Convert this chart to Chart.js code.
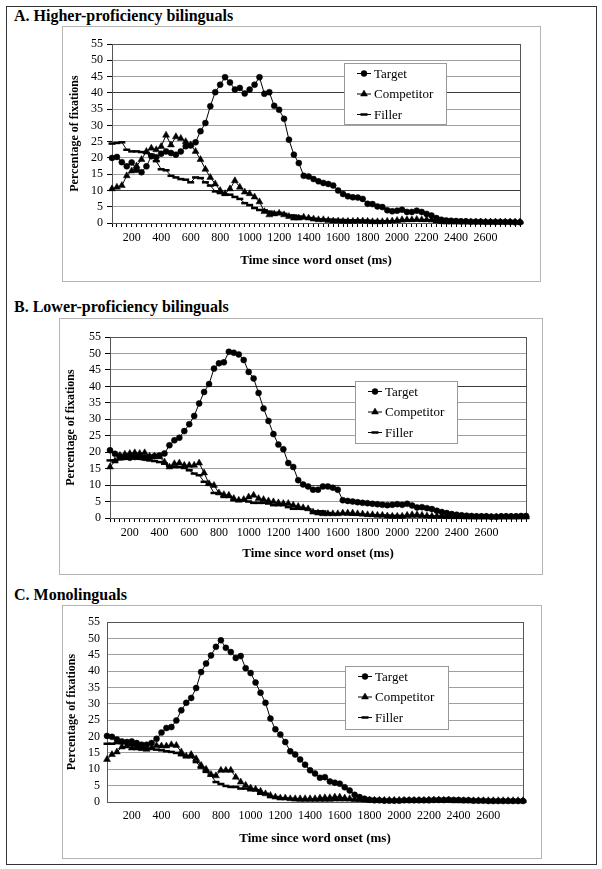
<!DOCTYPE html>
<html lang="en">
<head>
<meta charset="UTF-8">
<title>Percentage of fixations over time</title>
<script src="https://cdn.jsdelivr.net/npm/chart.js"></script>
<style>
  body { margin: 0; background: #fff; font-family: 'Liberation Serif', serif; }
  .frame { position: absolute; left: 6px; top: 6px; width: 589px; height: 857px; border: 1px solid #333; }
  .title { position: absolute; left: 14px; font-weight: bold; font-size: 16px; line-height: 16px; white-space: nowrap; }
  .box { position: absolute; border: 1px solid #b4b4b4; background: #fff; }
  .box canvas { display: block; }
</style>
</head>
<body>
<div class="frame"></div>

<div class="title" style="top:8px">A. Higher-proficiency bilinguals</div>
<div class="box" style="left:62px; top:26px; width:477px; height:254px">
  <canvas id="chartA" width="477" height="254"></canvas>
</div>

<div class="title" style="top:299px">B. Lower-proficiency bilinguals</div>
<div class="box" style="left:59px; top:318px; width:482px; height:255px">
  <canvas id="chartB" width="482" height="255"></canvas>
</div>

<div class="title" style="top:587px">C. Monolinguals</div>
<div class="box" style="left:62px; top:605px; width:478px; height:252px">
  <canvas id="chartC" width="478" height="252"></canvas>
</div>

<script>
// sample bins (ms since word onset)
const binTimes = [33, 67, 100, 133, 167, 200, 233, 267, 300, 333, 367, 400, 433, 467, 500, 533, 567, 600,
  633, 667, 700, 733, 767, 800, 833, 867, 900, 933, 967, 1000, 1033, 1067, 1100, 1133, 1167, 1200,
  1233, 1267, 1300, 1333, 1367, 1400, 1433, 1467, 1500, 1533, 1567, 1600, 1633, 1667, 1700, 1733,
  1767, 1800, 1833, 1867, 1900, 1933, 1967, 2000, 2033, 2067, 2100, 2133, 2167, 2200, 2233, 2267,
  2300, 2333, 2367, 2400, 2433, 2467, 2500, 2533, 2567, 2600, 2633, 2667, 2700, 2733, 2767, 2800,
  2833, 2867];
const timesA = binTimes.slice(1, 85);
const timesB = binTimes.slice(1, 86);
const timesC = binTimes.slice(0, 85);
const seriesNames = ['Target', 'Competitor', 'Filler'];

// A. Higher-proficiency bilinguals
const targetA = [20, 20.3, 18.7, 17.4, 18.6, 16.4, 15.6, 17.4, 20.5, 20.2,
  21.3, 22, 21.5, 21, 22, 23.6, 23.8, 24.8, 28.2, 30.7,
  35.9, 40.2, 42.5, 44.8, 43.2, 41, 41.5, 39.8, 41, 42.5,
  44.8, 39.7, 40.2, 36, 34.8, 32, 25.6, 21, 18.4, 14.5,
  14.3, 13.5, 12.8, 12.3, 12, 11.5, 10, 8.9, 8.2, 7.9,
  7.8, 7.4, 5.9, 5.8, 5.1, 4.9, 3.9, 3.6, 3.8, 4.1,
  3.4, 3.4, 3.8, 3.4, 2.8, 2.3, 1.5, 1.0, 0.8, 0.7,
  0.6, 0.5, 0.5, 0.4, 0.4, 0.4, 0.3, 0.3, 0.3, 0.3,
  0.3, 0.3, 0.2, 0.2];
const competitorA = [10.5, 11, 11.5, 14.5, 16, 17.5, 19.5, 22, 23, 22.5,
  23.5, 27, 24, 26.5, 26, 25, 24, 22, 19.5, 16.5,
  14, 12, 10, 9, 10.5, 13, 11, 9.5, 9, 8,
  6.5, 3.5, 2.5, 2.8, 3, 2.5, 2, 1.5, 1.5, 1.8,
  1.5, 1.2, 1, 1, 0.8, 0.6, 0.6, 0.5, 0.5, 0.5,
  0.6, 0.6, 0.5, 0.4, 0.4, 0.4, 0.5, 0.6, 0.8, 1,
  1, 1, 1.1, 1, 1, 0.9, 0.6, 0.4, 0.3, 0.3,
  0.3, 0.3, 0.3, 0.3, 0.3, 0.3, 0.3, 0.3, 0.3, 0.3,
  0.3, 0.3, 0.3, 0.3];
const fillerA = [24.4, 24.6, 24.8, 22.5, 22, 22, 21.8, 21.5, 21, 19,
  16.5, 16.2, 14.5, 14, 13.5, 13.3, 12.5, 14, 13.8, 12.5,
  11.5, 9.7, 9.2, 8.7, 8.7, 8, 7.4, 6.1, 5.5, 4.6,
  4, 3.9, 3.5, 3.1, 3.1, 2.8, 2.3, 2.3, 2, 1.5,
  1.5, 1.3, 1.1, 1, 1, 1, 0.9, 0.9, 0.8, 0.8,
  0.8, 0.7, 0.7, 0.6, 0.6, 0.5, 0.5, 0.5, 0.5, 0.6,
  0.7, 0.8, 0.8, 0.8, 0.8, 0.7, 0.6, 0.4, 0.3, 0.3,
  0.2, 0.2, 0.2, 0.2, 0.2, 0.2, 0.2, 0.2, 0.2, 0.2,
  0.2, 0.2, 0.2, 0.2];

// B. Lower-proficiency bilinguals
const targetB = [20.6, 19.5, 18.8, 18.5, 18.3, 18.5, 18.5, 18.3, 18.5, 18.8,
  19, 19.6, 22.1, 23.6, 24.4, 26.4, 28.5, 31, 34.8, 38.3,
  40.7, 45.4, 47, 47.3, 50.5, 50.2, 49.7, 48, 44.4, 42.4,
  38, 33.3, 29.5, 25.5, 22.3, 20.9, 16.7, 15.5, 11.5, 10.2,
  9.6, 8.6, 8.6, 9.6, 9.6, 9.2, 8.6, 5.4,
  5.2, 5, 4.8, 4.6, 4.5, 4.3, 4.2, 4, 3.9, 4,
  4.2, 4, 4.3, 3.8, 3.2, 3.3, 3, 2.7, 2.2, 1.8,
  1.5, 1.2, 1, 0.8, 0.7, 0.6, 0.5, 0.5, 0.5, 0.4,
  0.4, 0.5, 0.5, 0.5, 0.5, 0.6, 0.6];
const competitorB = [15.5, 17.3, 19, 19.4, 19.6, 19.8, 19.6, 19.8, 18.8, 18.8,
  18.6, 17, 15.5, 16.5, 16.7, 16, 16, 16, 16.7, 13.7,
  10.4, 9.9, 7.6, 7.1, 6.9, 5.9, 5.4, 5.6, 6.4, 6.9,
  5.9, 5.6, 5.2, 4.9, 4.6, 4.4, 4.4, 3.9, 3.5, 3.1,
  2.8, 1.8, 1.5, 1.3, 1.3, 1.3, 1.3, 1.5,
  1.5, 1.5, 1.3, 1.2, 1, 1, 0.8, 0.8, 0.6, 0.5,
  0.5, 0.5, 0.8, 1, 1, 0.8, 0.6, 0.5, 0.5, 0.5,
  0.4, 0.4, 0.4, 0.4, 0.3, 0.3, 0.3, 0.3, 0.3, 0.3,
  0.3, 0.3, 0.3, 0.3, 0.3, 0.3, 0.3];
const fillerB = [17.5, 17.5, 17.8, 18, 18.2, 18.2, 18, 17.8, 17.5, 17.3,
  17, 16.5, 15.8, 15.5, 15.5, 15.2, 14.5, 13.5, 13, 11,
  10.2, 7.6, 7.4, 6.4, 6.4, 5.4, 5.4, 5.4, 5, 4.6,
  4.6, 4.6, 4.4, 3.9, 3.9, 3.9, 3.3, 2.8, 2.8, 2.8,
  2.6, 2, 2, 2, 1.5, 1.2, 1.2, 1.2,
  1.1, 1, 1, 0.9, 0.9, 0.8, 0.8, 0.7, 0.7, 0.6,
  0.6, 0.6, 0.5, 0.5, 0.5, 0.5, 0.5, 0.4, 0.4, 0.4,
  0.4, 0.4, 0.3, 0.3, 0.3, 0.3, 0.3, 0.3, 0.3, 0.3,
  0.3, 0.3, 0.3, 0.3, 0.3, 0.3, 0.3];

// C. Monolinguals
const targetC = [20.2, 19.9, 19.1, 18.5, 18.3, 18.5, 18, 17.5, 17.5, 18,
  19.3, 21.2, 22.6, 22.9, 24.9, 28, 30.3, 31.8, 34.8, 39.7,
  42.3, 44.8, 47.4, 49.4, 47.1, 45.8, 44, 44.6, 40.9, 39.4,
  36.5, 33.4, 30.3, 25.5, 22.2, 20.6, 18.3, 15.5, 14.5, 13,
  11.4, 9.7, 8.7, 7.4, 7.6, 6.3, 5.9, 5.6,
  4.5, 3.5, 2.2, 1.5, 1, 0.7, 0.5, 0.5, 0.4, 0.4,
  0.4, 0.4, 0.5, 0.5, 0.5, 0.5, 0.5, 0.5, 0.6, 0.6,
  0.6, 0.7, 0.6, 0.6, 0.5, 0.5, 0.4, 0.4, 0.4, 0.3,
  0.3, 0.3, 0.3, 0.3, 0.3, 0.3, 0.3];
const competitorC = [13, 14.5, 15.3, 16.8, 17.1, 16.5, 16.5, 16.3, 16.1, 16.5,
  17.3, 17.1, 17.1, 17.5, 17.3, 15.3, 14, 14.5, 13.2, 11.2,
  10, 8.4, 8, 9.7, 9.7, 9.7, 7.6, 6.1, 5.1, 4.3,
  3.9, 3.3, 2.5, 2, 1.5, 1.2, 1.2, 1, 1, 1,
  1, 1, 1, 1.2, 1.3, 1.3, 1.5, 1.5, 1.2, 1,
  0.8, 0.8, 0.6, 0.5, 0.5, 0.5, 0.5, 0.5, 0.5, 0.5,
  0.5, 0.5, 0.5, 0.5, 0.5, 0.6, 0.6, 0.6, 0.5, 0.5,
  0.4, 0.4, 0.4, 0.4, 0.4, 0.4, 0.4, 0.4, 0.4, 0.4,
  0.4, 0.4, 0.4, 0.4, 0.4];
const fillerC = [17.8, 17.8, 18, 18, 18, 17.5, 17, 16.5, 16.3, 16.3,
  16, 15.8, 15.5, 15.3, 15, 14.3, 13.8, 13.7, 12.2, 10.5,
  9.2, 8.1, 6.1, 5.5, 4.9, 4.6, 4.6, 4.1, 4.1, 3.6,
  3.6, 2.5, 2.5, 1.5, 1.5, 1, 1, 1, 0.6, 0.5,
  0.5, 0.5, 0.5, 0.5, 0.5, 0.5, 0.6, 0.6, 0.6, 0.6,
  0.6, 0.5, 0.5, 0.5, 0.5, 0.5, 0.5, 0.5, 0.5, 0.5,
  0.5, 0.5, 0.5, 0.5, 0.5, 0.4, 0.4, 0.4, 0.4, 0.4,
  0.3, 0.3, 0.3, 0.3, 0.3, 0.3, 0.3, 0.3, 0.3, 0.3,
  0.3, 0.3, 0.3, 0.3, 0.3];

const serif = '"Liberation Serif", "Times New Roman", serif';
Chart.defaults.font.family = serif;

// dark frame round the plot area (top and right edges show)
const plotFrame = {
  id: 'plotFrame',
  beforeDatasetsDraw(chart) {
    const a = chart.chartArea, ctx = chart.ctx;
    ctx.save();
    ctx.strokeStyle = '#555';
    ctx.lineWidth = 1;
    ctx.strokeRect(Math.round(a.left) + 0.5, Math.round(a.top) + 0.5,
      Math.round(a.right - a.left), Math.round(a.bottom - a.top));
    ctx.restore();
  }
};

// boxed legend inside the plot, drawn from the datasets' own styles
const boxLegend = {
  id: 'boxLegend',
  afterDraw(chart, args, opts) {
    const ctx = chart.ctx;
    ctx.save();
    ctx.fillStyle = '#fff';
    ctx.fillRect(opts.x, opts.y, opts.w, opts.h);
    ctx.strokeStyle = '#999';
    ctx.lineWidth = 1;
    ctx.strokeRect(opts.x + 0.5, opts.y + 0.5, opts.w, opts.h);
    ctx.font = '13px ' + serif;
    ctx.textBaseline = 'middle';
    chart.data.datasets.forEach((ds, i) => {
      const cy = opts.y + 10.5 + i * 20.5;
      const x0 = opts.x + 13, x1 = opts.x + 27;
      ctx.strokeStyle = '#000';
      ctx.lineWidth = 1;
      ctx.beginPath();
      ctx.moveTo(x0, cy);
      ctx.lineTo(x1, cy);
      ctx.stroke();
      ctx.fillStyle = '#000';
      ctx.lineWidth = ds.pointBorderWidth;
      Chart.helpers.drawPoint(ctx, {
        pointStyle: ds.pointStyle, rotation: 0,
        radius: ds.pointRadius, borderWidth: ds.pointBorderWidth
      }, (x0 + x1) / 2, cy);
      ctx.fillStyle = '#000';
      ctx.fillText(ds.label, x1 + 3, cy + 1);
    });
    ctx.restore();
  }
};

function series(label, data, style, radius, pw) {
  return {
    label: label,
    data: data,
    borderColor: '#000',
    borderWidth: 1,
    backgroundColor: '#000',
    pointStyle: style,
    pointRadius: radius,
    pointBorderWidth: pw,
    pointBackgroundColor: '#000',
    pointBorderColor: '#000',
    tension: 0,
    clip: 6
  };
}

function makeChart(id, times, target, competitor, filler, g) {
  new Chart(document.getElementById(id), {
    type: 'line',
    data: {
      labels: times,
      datasets: [
        series(seriesNames[0], target, 'circle', 3, 0.5),
        series(seriesNames[1], competitor, 'triangle', 4, 0.5),
        series(seriesNames[2], filler, 'line', 3.5, 2.5)
      ]
    },
    options: {
      responsive: false,
      animation: false,
      devicePixelRatio: 1,
      layout: { padding: { left: 0, top: g.top, right: g.right, bottom: g.bottom } },
      plugins: {
        legend: { display: false },
        tooltip: { enabled: false },
        boxLegend: g.legend
      },
      scales: {
        x: {
          type: 'category',
          afterFit: s => { s.height = g.xh; },
          border: { color: '#000', width: 1 },
          grid: { drawOnChartArea: false, drawTicks: g.ticks, tickLength: 4, tickColor: '#000' },
          ticks: {
            autoSkip: false, maxRotation: 0, minRotation: 0, padding: g.ticks ? 4 : 7,
            color: '#000', font: { family: serif, size: 12 },
            callback: function (v) {
              const t = this.getLabelForValue(v);
              return (t % 200 === 0 && t <= 2600) ? String(t) : '';
            }
          },
          title: {
            display: true, text: 'Time since word onset (ms)', color: '#000',
            font: { family: serif, size: 13, weight: 'bold' }, padding: { top: 0, bottom: 4 }
          }
        },
        y: {
          min: 0, max: 55,
          afterFit: s => { s.width = g.yw; },
          border: { color: '#000', width: 1 },
          grid: {
            color: c => (g.dark.includes(c.tick.value) ? '#3c3c3c' : '#a0a0a0'),
            drawTicks: g.ticks, tickLength: 5, tickColor: '#000'
          },
          ticks: {
            stepSize: 5, autoSkip: false, padding: g.ticks ? 4 : 7,
            color: '#000', font: { family: serif, size: 12 }
          },
          title: {
            display: true, text: 'Percentage of fixations', color: '#000',
            font: { family: serif, size: 12, weight: 'bold' }, padding: { top: g.ytp, bottom: 0 }
          }
        }
      }
    },
    plugins: [plotFrame, boxLegend]
  });
}

makeChart('chartA', timesA, targetA, competitorA, fillerA, {
  top: 17, right: 20, bottom: 9, xh: 49, yw: 49, ytp: 5, ticks: true, dark: [10, 40],
  legend: { x: 281, y: 36, w: 102, h: 61 }
});
makeChart('chartB', timesB, targetB, competitorB, fillerB, {
  top: 18, right: 16, bottom: 9, xh: 47, yw: 50, ytp: 4, ticks: true, dark: [10, 40],
  legend: { x: 295, y: 62, w: 102, h: 62 }
});
makeChart('chartC', timesC, targetC, competitorC, fillerC, {
  top: 16, right: 18, bottom: 8, xh: 48, yw: 44, ytp: 2, ticks: false, dark: [],
  legend: { x: 282, y: 60, w: 103, h: 63 }
});
</script>
</body>
</html>
